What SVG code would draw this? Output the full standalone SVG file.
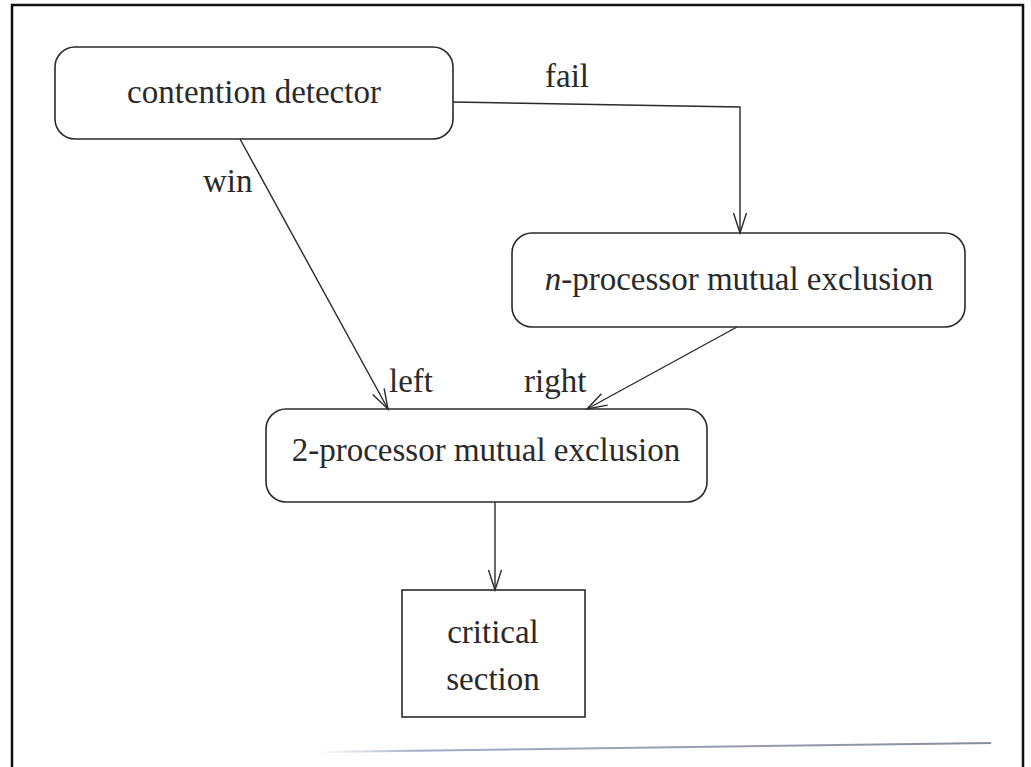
<svg xmlns="http://www.w3.org/2000/svg" width="1031" height="767" viewBox="0 0 1031 767">
<style>
.box{fill:none;stroke:#2a2a2a;stroke-width:1.6}
.t{font-family:'Liberation Serif','Times New Roman',Times,serif;font-size:33px;fill:#2a2a2a}
.c{text-anchor:middle}
.edge{fill:none;stroke:#2a2a2a;stroke-width:1.4}
</style>
<defs>
<marker id="arr" markerUnits="userSpaceOnUse" markerWidth="24" markerHeight="16" viewBox="-22 -8 24 16" refX="0" refY="0" orient="auto">
<path d="M-20,-6.5 L0,0 L-20,6.5" fill="none" stroke="#2a2a2a" stroke-width="1.4"/>
</marker>
<linearGradient id="fade" x1="0" y1="0" x2="1" y2="0">
<stop offset="0" stop-color="#8a9ab8" stop-opacity="0"/>
<stop offset="0.15" stop-color="#8a9ab8" stop-opacity="0.8"/>
<stop offset="1" stop-color="#7a8090" stop-opacity="0.9"/>
</linearGradient>
</defs>
<rect width="1031" height="767" fill="#ffffff"/>
<path d="M12,767 V5 H1023 V767" fill="none" stroke="#111" stroke-width="2.5"/>
<path d="M318,752 L991,743" fill="none" stroke="url(#fade)" stroke-width="2"/>
<g id="connectors">
<polyline class="edge" points="453,102 740,107 740,233" marker-end="url(#arr)"/>
<line class="edge" x1="240" y1="139" x2="388" y2="409" marker-end="url(#arr)"/>
<line class="edge" x1="737" y1="327" x2="587" y2="409" marker-end="url(#arr)"/>
<line class="edge" x1="495" y1="502" x2="495" y2="590" marker-end="url(#arr)"/>
<text class="t" font-family="Liberation Serif" x="203" y="192">win</text>
<text class="t" font-family="Liberation Serif" x="545" y="87">fail</text>
<text class="t" font-family="Liberation Serif" x="389" y="392">left</text>
<text class="t" font-family="Liberation Serif" x="524" y="392">right</text>
</g>
<g id="contention-detector">
<rect class="box" x="55" y="47" width="398" height="92" rx="20"/>
<text class="t c" x="254" y="103">contention detector</text>
</g>
<g id="n-processor">
<rect class="box" x="512" y="233" width="453" height="94" rx="20"/>
<text class="t c" x="739" y="290"><tspan font-style="italic">n</tspan>-processor mutual exclusion</text>
</g>
<g id="two-processor">
<rect class="box" x="266" y="409" width="441" height="93" rx="20"/>
<text class="t c" x="486" y="461">2-processor mutual exclusion</text>
</g>
<g id="critical-section">
<rect class="box" x="402" y="590" width="183" height="127"/>
<text class="t c" x="493" y="643">critical</text>
<text class="t c" x="493" y="690">section</text>
</g>
</svg>
